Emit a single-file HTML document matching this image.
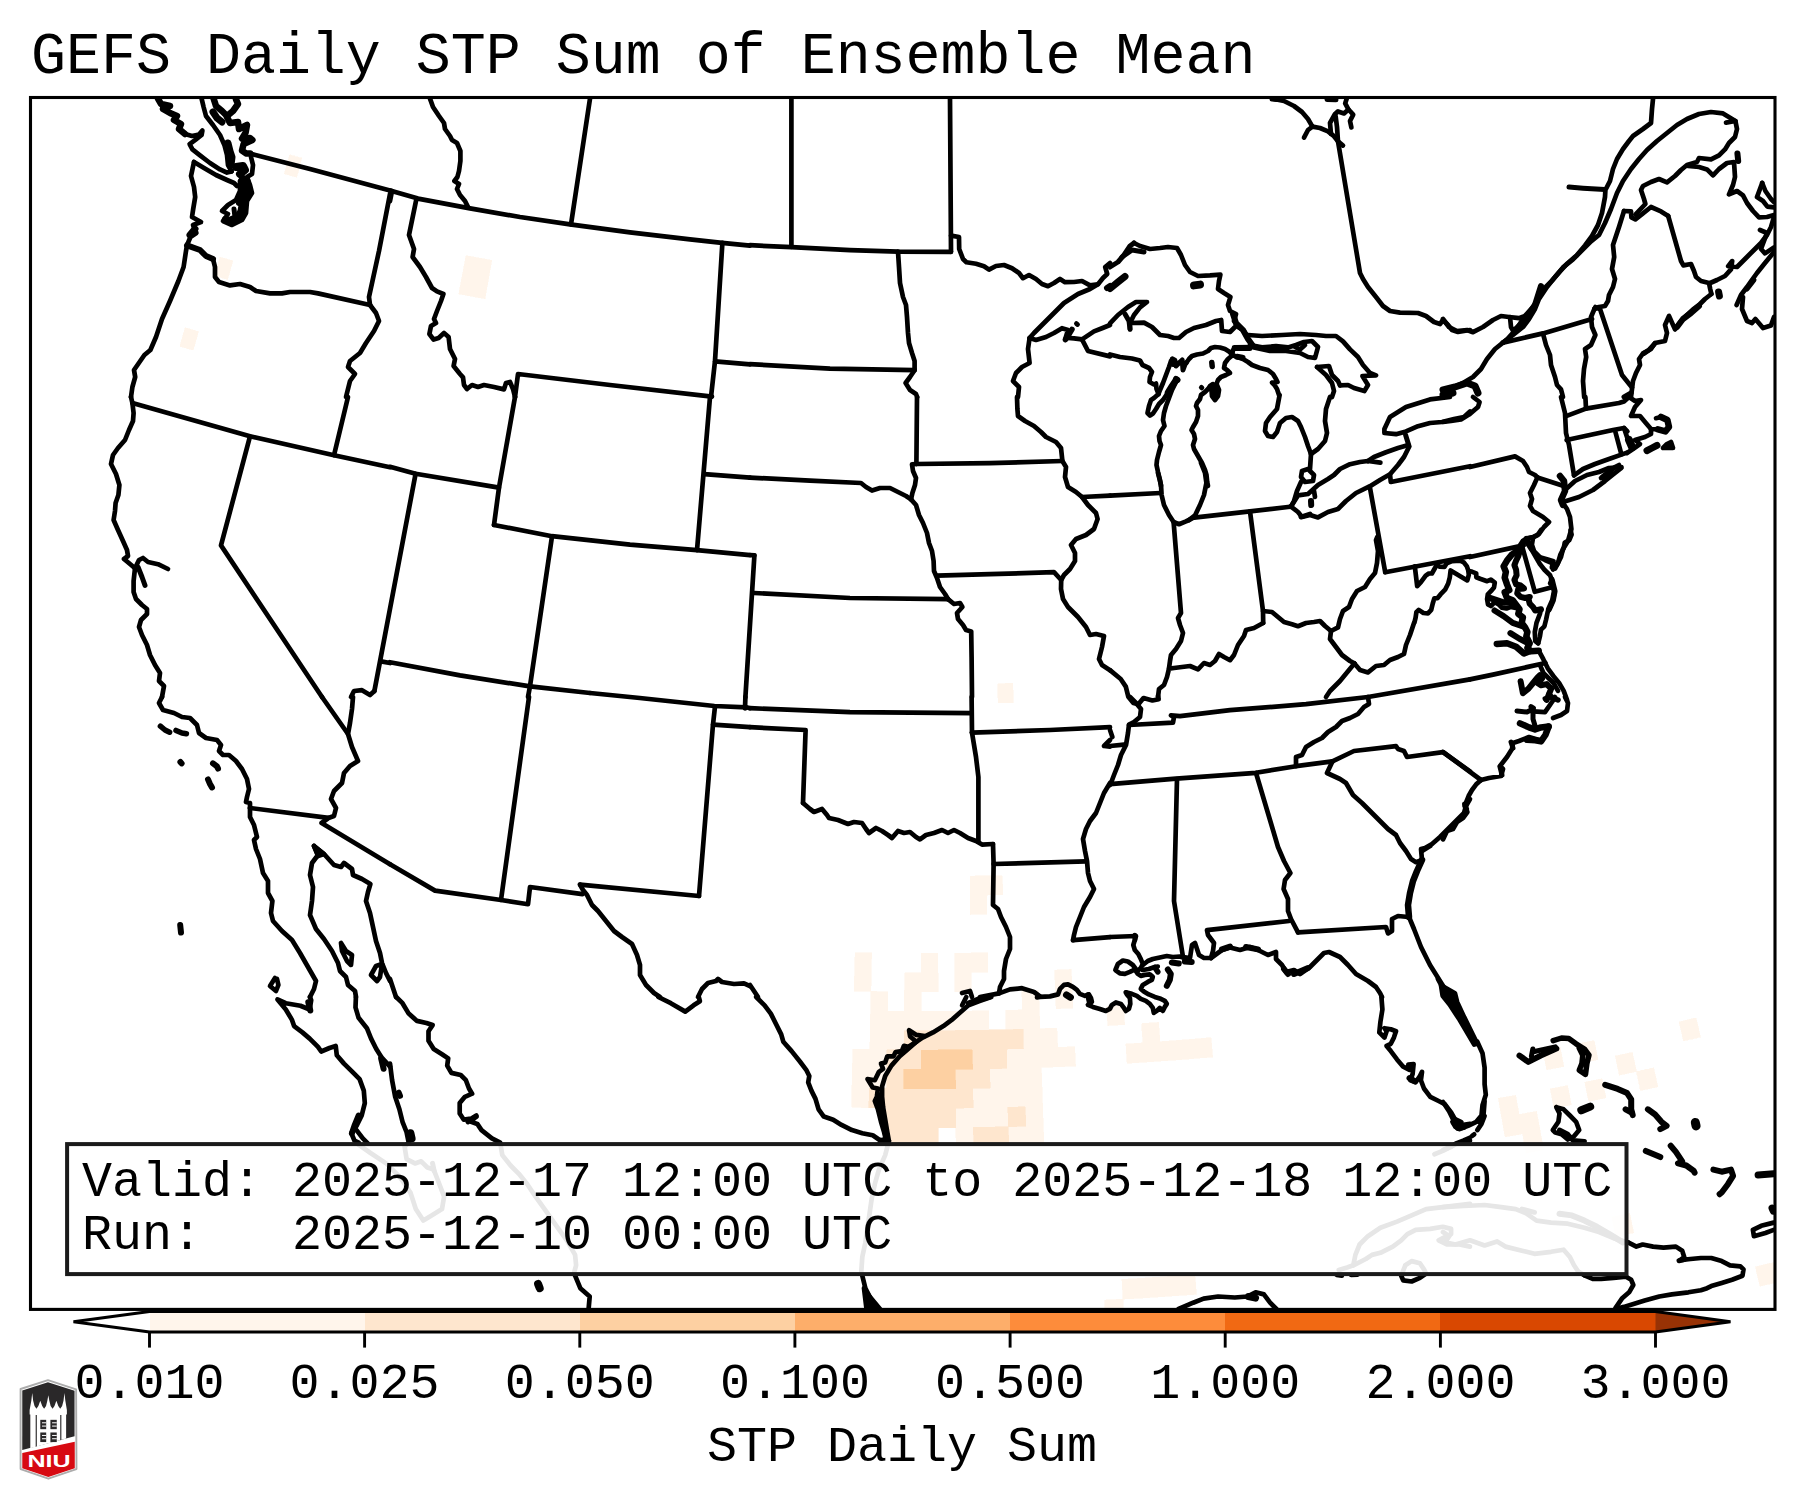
<!DOCTYPE html>
<html lang="en">
<head>
<meta charset="utf-8">
<title>GEFS Daily STP Sum of Ensemble Mean</title>
<style>
html,body{margin:0;padding:0;background:#fff;}
body{width:1803px;height:1500px;overflow:hidden;}
svg{display:block;}
text{font-family:"Liberation Mono","DejaVu Sans Mono",monospace;fill:#000;}
.t{font-size:58.3px;}
.l{font-size:50px;}
.ln{fill:none;stroke:#000;stroke-width:4.7;stroke-linejoin:round;stroke-linecap:round;}
.gh{fill:none;stroke:#e4e4e4;stroke-width:3.1;stroke-linejoin:round;stroke-linecap:round;}
</style>
</head>
<body>
<svg width="1803" height="1500" viewBox="0 0 1803 1500">
<rect x="0" y="0" width="1803" height="1500" fill="#fff"/>
<text class="t" x="31" y="73">GEFS Daily STP Sum of Ensemble Mean</text>
<defs><clipPath id="mapclip"><rect x="30" y="97" width="1745" height="1212"/></clipPath></defs>
<g clip-path="url(#mapclip)">
<g id="cells" shape-rendering="crispEdges">
<path fill="#fff5eb" stroke="#fff5eb" stroke-width="0.6" d="M185.2,327.7L198.5,331.6L193.2,350.2L179.8,346.3ZM220.0,257.1L232.9,260.8L227.6,279.5L214.6,275.8ZM289.5,154.9L301.8,158.2L296.8,177.2L284.3,173.9ZM462.4,274.8L475.4,277.2L471.9,296.4L458.8,293.9ZM466.0,255.6L478.9,258.0L475.4,277.2L462.4,274.8ZM475.4,277.2L488.4,279.6L485.0,298.7L471.9,296.4ZM478.9,258.0L491.8,260.3L488.4,279.6L475.4,277.2ZM851.9,1087.9L869.2,1088.3L868.9,1107.7L851.5,1107.3ZM852.4,1068.5L869.6,1068.8L869.2,1088.3L851.9,1087.9ZM852.8,1049.1L869.9,1049.4L869.6,1068.8L852.4,1068.5ZM854.6,971.8L871.3,972.1L870.9,991.4L854.2,991.1ZM855.1,952.5L871.6,952.8L871.3,972.1L854.6,971.8ZM869.6,1068.8L886.7,1069.1L886.5,1088.5L869.2,1088.3ZM869.9,1049.4L887.0,1049.7L886.7,1069.1L869.6,1068.8ZM870.2,1030.1L887.2,1030.3L887.0,1049.7L869.9,1049.4ZM870.6,1010.7L887.5,1011.0L887.2,1030.3L870.2,1030.1ZM870.9,991.4L887.7,991.7L887.5,1011.0L870.6,1010.7ZM887.2,1030.3L904.2,1030.5L904.0,1049.9L887.0,1049.7ZM887.5,1011.0L904.3,1011.2L904.2,1030.5L887.2,1030.3ZM904.3,1011.2L921.2,1011.2L921.2,1030.6L904.2,1030.5ZM904.5,991.8L921.2,991.9L921.2,1011.2L904.3,1011.2ZM904.6,972.5L921.3,972.6L921.2,991.9L904.5,991.8ZM921.2,1011.2L938.1,1011.2L938.1,1030.6L921.2,1030.6ZM921.3,972.6L938.0,972.6L938.0,991.9L921.2,991.9ZM921.3,953.3L937.9,953.3L938.0,972.6L921.3,972.6ZM938.1,1011.2L954.9,1011.1L955.1,1030.5L938.1,1030.6ZM955.9,1127.6L973.4,1127.4L973.7,1146.9L956.1,1147.1ZM955.7,1108.1L973.1,1107.9L973.4,1127.4L955.9,1127.6ZM954.9,1011.1L971.8,1011.0L972.1,1030.3L955.1,1030.5ZM954.6,972.5L971.3,972.3L971.5,991.6L954.8,991.8ZM954.5,953.2L971.0,953.0L971.3,972.3L954.6,972.5ZM973.1,1107.9L990.5,1107.6L990.9,1127.1L973.4,1127.4ZM972.9,1088.5L990.1,1088.2L990.5,1107.6L973.1,1107.9ZM971.8,1011.0L988.7,1010.7L989.0,1030.0L972.1,1030.3ZM971.0,953.0L987.6,952.8L988.0,972.1L971.3,972.3ZM970.2,895.3L986.5,895.0L986.9,914.3L970.5,914.5ZM970.0,876.1L986.1,875.8L986.5,895.0L970.2,895.3ZM990.5,1107.6L1007.9,1107.3L1008.3,1126.7L990.9,1127.1ZM990.1,1088.2L1007.4,1087.8L1007.9,1107.3L990.5,1107.6ZM989.8,1068.8L1006.9,1068.4L1007.4,1087.8L990.1,1088.2ZM986.1,875.8L1002.3,875.5L1002.8,894.7L986.5,895.0ZM1008.3,1126.7L1025.8,1126.3L1026.4,1145.8L1008.8,1146.2ZM1007.4,1087.8L1024.7,1087.4L1025.3,1106.8L1007.9,1107.3ZM1006.9,1068.4L1024.1,1068.0L1024.7,1087.4L1007.4,1087.8ZM1006.5,1049.0L1023.5,1048.6L1024.1,1068.0L1006.9,1068.4ZM1005.5,1010.3L1022.4,1009.9L1023.0,1029.2L1006.0,1029.7ZM997.7,683.7L1012.8,683.3L1013.4,702.5L998.1,702.9ZM1025.8,1126.3L1043.3,1125.7L1044.0,1145.2L1026.4,1145.8ZM1025.3,1106.8L1042.6,1106.3L1043.3,1125.7L1025.8,1126.3ZM1024.7,1087.4L1042.0,1086.8L1042.6,1106.3L1025.3,1106.8ZM1024.1,1068.0L1041.3,1067.4L1042.0,1086.8L1024.7,1087.4ZM1023.5,1048.6L1040.6,1048.0L1041.3,1067.4L1024.1,1068.0ZM1023.0,1029.2L1039.9,1028.7L1040.6,1048.0L1023.5,1048.6ZM1022.4,1009.9L1039.3,1009.3L1039.9,1028.7L1023.0,1029.2ZM1021.8,990.6L1038.6,990.0L1039.3,1009.3L1022.4,1009.9ZM1040.6,1048.0L1057.7,1047.4L1058.4,1066.8L1041.3,1067.4ZM1039.9,1028.7L1056.9,1028.0L1057.7,1047.4L1040.6,1048.0ZM1057.7,1047.4L1074.7,1046.7L1075.6,1066.0L1058.4,1066.8ZM1055.4,989.4L1072.1,988.7L1073.0,1008.0L1056.1,1008.7ZM1054.6,970.1L1071.2,969.4L1072.1,988.7L1055.4,989.4ZM1104.6,1300.1L1123.0,1299.1L1124.1,1318.9L1105.6,1319.9ZM1121.9,1279.4L1140.2,1278.3L1141.4,1298.1L1123.0,1299.1ZM1106.7,1006.3L1123.5,1005.3L1124.7,1024.6L1107.8,1025.6ZM1140.2,1278.3L1158.4,1277.1L1159.7,1296.9L1141.4,1298.1ZM1125.9,1044.0L1142.9,1042.9L1144.2,1062.2L1127.1,1063.3ZM1158.4,1277.1L1176.7,1275.9L1178.1,1295.6L1159.7,1296.9ZM1142.9,1042.9L1160.0,1041.7L1161.3,1061.0L1144.2,1062.2ZM1141.6,1023.5L1158.6,1022.4L1160.0,1041.7L1142.9,1042.9ZM1176.7,1275.9L1194.9,1274.5L1196.5,1294.3L1178.1,1295.6ZM1160.0,1041.7L1177.0,1040.4L1178.5,1059.8L1161.3,1061.0ZM1177.0,1040.4L1194.0,1039.1L1195.6,1058.4L1178.5,1059.8ZM1194.0,1039.1L1211.0,1037.6L1212.7,1057.0L1195.6,1058.4ZM1501.7,1117.6L1519.1,1114.5L1522.6,1133.8L1505.1,1136.9ZM1498.4,1098.3L1515.7,1095.3L1519.1,1114.5L1501.7,1117.6ZM1522.6,1133.8L1540.1,1130.6L1543.6,1149.9L1526.0,1153.1ZM1519.1,1114.5L1536.5,1111.4L1540.1,1130.6L1522.6,1133.8ZM1550.3,1088.9L1567.6,1085.6L1571.3,1104.8L1553.9,1108.1ZM1543.1,1050.6L1560.1,1047.3L1563.9,1066.5L1546.7,1069.8ZM1611.8,1217.1L1629.7,1213.4L1633.7,1232.8L1615.7,1236.5ZM1584.8,1082.2L1602.1,1078.7L1606.0,1097.8L1588.7,1101.4ZM1577.2,1044.0L1594.2,1040.5L1598.1,1059.6L1581.0,1063.1ZM1615.3,1056.0L1632.3,1052.4L1636.5,1071.5L1619.3,1075.1ZM1636.5,1071.5L1653.6,1067.7L1657.9,1086.8L1640.6,1090.5ZM1679.1,1021.9L1696.0,1017.9L1700.5,1036.9L1683.5,1040.9ZM1755.4,1266.9L1773.6,1262.5L1778.3,1281.9L1760.0,1286.3Z"/>
<path fill="#fee6ce" stroke="#fee6ce" stroke-width="0.6" d="M869.2,1088.3L886.5,1088.5L886.2,1108.0L868.9,1107.7ZM886.0,1127.4L903.5,1127.6L903.3,1147.1L885.7,1146.9ZM886.2,1108.0L903.6,1108.1L903.5,1127.6L886.0,1127.4ZM886.5,1088.5L903.8,1088.7L903.6,1108.1L886.2,1108.0ZM886.7,1069.1L903.9,1069.3L903.8,1088.7L886.5,1088.5ZM887.0,1049.7L904.0,1049.9L903.9,1069.3L886.7,1069.1ZM903.5,1127.6L920.9,1127.7L920.9,1147.2L903.3,1147.1ZM903.6,1108.1L921.0,1108.2L920.9,1127.7L903.5,1127.6ZM903.8,1088.7L921.0,1088.8L921.0,1108.2L903.6,1108.1ZM904.0,1049.9L921.1,1050.0L921.1,1069.4L903.9,1069.3ZM904.2,1030.5L921.2,1030.6L921.1,1050.0L904.0,1049.9ZM920.9,1127.7L938.4,1127.7L938.5,1147.2L920.9,1147.2ZM921.0,1108.2L938.4,1108.2L938.4,1127.7L920.9,1127.7ZM921.0,1088.8L938.3,1088.8L938.4,1108.2L921.0,1108.2ZM921.2,1030.6L938.1,1030.6L938.2,1050.0L921.1,1050.0ZM938.4,1108.2L955.7,1108.1L955.9,1127.6L938.4,1127.7ZM938.3,1088.8L955.6,1088.7L955.7,1108.1L938.4,1108.2ZM938.1,1030.6L955.1,1030.5L955.3,1049.9L938.2,1050.0ZM955.6,1088.7L972.9,1088.5L973.1,1107.9L955.7,1108.1ZM955.4,1069.3L972.6,1069.1L972.9,1088.5L955.6,1088.7ZM955.1,1030.5L972.1,1030.3L972.3,1049.7L955.3,1049.9ZM973.4,1127.4L990.9,1127.1L991.2,1146.6L973.7,1146.9ZM972.6,1069.1L989.8,1068.8L990.1,1088.2L972.9,1088.5ZM972.3,1049.7L989.4,1049.4L989.8,1068.8L972.6,1069.1ZM972.1,1030.3L989.0,1030.0L989.4,1049.4L972.3,1049.7ZM990.9,1127.1L1008.3,1126.7L1008.8,1146.2L991.2,1146.6ZM989.4,1049.4L1006.5,1049.0L1006.9,1068.4L989.8,1068.8ZM989.0,1030.0L1006.0,1029.7L1006.5,1049.0L989.4,1049.4ZM1007.9,1107.3L1025.3,1106.8L1025.8,1126.3L1008.3,1126.7ZM1006.0,1029.7L1023.0,1029.2L1023.5,1048.6L1006.5,1049.0Z"/>
<path fill="#fdd0a2" stroke="#fdd0a2" stroke-width="0.6" d="M903.9,1069.3L921.1,1069.4L921.0,1088.8L903.8,1088.7ZM921.1,1069.4L938.2,1069.3L938.3,1088.8L921.0,1088.8ZM921.1,1050.0L938.2,1050.0L938.2,1069.3L921.1,1069.4ZM938.2,1069.3L955.4,1069.3L955.6,1088.7L938.3,1088.8ZM938.2,1050.0L955.3,1049.9L955.4,1069.3L938.2,1069.3ZM955.3,1049.9L972.3,1049.7L972.6,1069.1L955.4,1069.3Z"/>
</g>
<g id="map" class="ln">
<polyline points="158.0,98.6 161.0,104.0 170.0,106.0 163.0,109.0 170.0,113.0 177.0,116.0 174.0,120.0 181.0,124.0 179.0,129.0 185.0,134.0" stroke-width="6.5"/>
<polyline points="185.0,134.0 192.0,136.0 199.0,134.6 202.4,130.6 201.6,135.0 196.0,139.4 189.6,144.2 192.4,149.4 200.0,155.4 210.0,163.0 220.0,169.4 227.0,172.6 231.6,171.4"/>
<polyline points="201.6,98.6 203.6,107.0 206.0,116.0 213.0,125.0 220.0,135.0 224.4,145.0 227.0,155.0 228.0,165.0 231.6,171.4"/>
<polyline points="213.6,98.6 216.0,106.0 222.0,111.0 227.0,116.0 233.0,111.0 238.0,104.0 236.0,99.4" stroke-width="6.5"/>
<polyline points="213.0,112.0 217.0,118.0 222.0,122.0" stroke-width="7.0"/>
<polyline points="227.0,117.0 230.0,123.0 238.0,122.0 239.0,129.0 247.0,125.0 245.6,132.6 242.0,138.6 250.0,138.0 252.4,140.0 243.6,144.0 242.0,150.6 246.0,153.4 250.0,153.6" stroke-width="6.5"/>
<polyline points="228.0,143.0 230.0,151.0 232.0,157.0 231.0,165.0" stroke-width="7.0"/>
<polyline points="250.0,153.6 310.0,169.0 390.0,190.4"/>
<polyline points="194.0,162.0 204.0,168.0 216.0,175.0 227.0,180.0 234.0,183.0 237.0,186.0"/>
<polyline points="251.0,157.0 253.0,165.0 252.0,174.0 247.0,177.0 250.0,185.0 252.0,193.0 247.0,201.0 246.0,213.0 242.0,220.0 232.0,225.0 223.0,221.0 228.0,214.0 222.0,211.0 228.0,205.0 236.0,200.0 240.0,191.0 240.0,181.0 243.0,177.0"/>
<polyline points="236.0,167.0 243.0,166.0 245.0,170.0 240.0,174.0" stroke-width="8.0"/>
<polyline points="246.0,181.0 247.0,191.0 244.0,201.0 242.0,211.0 239.0,218.0" stroke-width="9.0"/>
<polyline points="242.0,185.0 242.0,197.0 239.0,203.0" stroke-width="6.0"/>
<polyline points="225.0,219.0 232.0,222.0 238.0,220.0" stroke-width="6.0"/>
<polyline points="234.0,209.0 235.0,217.0 230.0,219.0" stroke-width="5.0"/>
<polyline points="194.0,162.0 191.0,176.0 194.0,187.0 195.2,197.0 193.2,209.0 192.0,217.0 201.0,222.0 193.0,225.0 196.4,233.0 190.4,237.0 187.0,245.4"/>
<polyline points="190.0,235.0 195.0,229.0" stroke-width="7.0"/>
<polyline points="187.0,245.4 186.0,251.0 183.6,267.0 178.4,281.0 170.0,301.0 162.0,319.0 156.0,337.0 150.4,350.0 144.4,355.0 134.0,370.0 135.2,377.0 132.4,387.0 131.0,397.0"/>
<polyline points="187.0,245.4 200.0,250.0 206.0,256.0 213.0,259.0" stroke-width="6.0"/>
<polyline points="213.0,259.0 215.0,267.0 215.0,277.0 219.0,282.0 230.0,285.4 240.0,284.0 250.0,287.0 256.0,291.0 270.0,293.4 282.0,293.4 290.0,292.0 310.0,292.0 318.0,293.4 370.0,305.0"/>
<polyline points="390.0,194.0 379.0,251.0 369.0,297.0 370.0,305.0"/>
<polyline points="370.0,305.0 376.0,313.0 379.0,321.0 374.0,331.0 366.0,343.0 360.0,353.0 350.0,361.0 348.0,367.0 355.0,374.0 350.0,381.0 346.0,397.0"/>
<polyline points="390.0,190.4 418.0,198.6 470.0,208.4 520.0,217.0 570.0,224.4 630.0,232.4 690.0,239.4 722.0,242.8 750.0,245.6"/>
<polyline points="392.0,191.0 390.0,201.0"/>
<polyline points="416.4,199.0 409.0,235.0 414.0,249.0 412.6,257.0 420.0,267.0 426.0,277.0 432.0,288.0 437.0,291.4 443.4,294.0 441.0,301.0 437.0,311.0 434.0,319.0 436.0,323.0 431.0,326.0 429.4,334.0 433.6,339.6 438.6,338.0 444.0,333.0 448.6,337.0 450.0,349.0 455.0,359.0 453.6,366.0 460.0,374.0 463.0,377.4 464.0,385.0 467.0,389.0 472.0,385.0 478.0,387.0 484.0,385.0 494.0,387.0 504.0,389.4 506.0,383.0 510.0,382.0 513.0,389.0 515.0,397.0"/>
<polyline points="430.0,98.6 433.0,107.0 439.0,116.0 444.0,123.0 445.0,129.0 450.0,136.0 452.0,140.0 457.0,143.0 460.4,151.0 460.4,161.0 459.0,171.0 457.4,177.0 454.4,181.0 459.0,184.0 457.0,189.0 460.0,195.0 465.0,201.0 468.0,207.0"/>
<polyline points="590.0,98.6 571.0,224.4"/>
<polyline points="722.4,242.8 715.0,361.0 711.0,397.0"/>
<polyline points="715.0,361.4 750.0,364.4"/>
<polyline points="515.0,397.0 518.0,374.0 610.0,385.0 712.0,396.6"/>
<polyline points="791.4,98.6 791.4,247.0"/>
<polyline points="750.0,245.2 791.4,247.2 850.0,250.2 898.0,251.6 951.0,251.8"/>
<polyline points="950.0,98.6 951.0,251.8"/>
<polyline points="951.0,235.6 959.0,237.0 959.2,249.0 963.0,259.0 966.4,262.2 976.0,263.8 984.0,266.2 989.0,269.6 996.0,266.0 1004.0,265.0 1012.0,268.2 1019.0,273.0 1023.0,278.2 1029.0,275.0 1036.0,279.0 1042.0,284.0 1048.0,286.2 1054.0,283.0 1060.0,279.0 1065.0,282.2 1074.0,282.0 1082.0,281.0 1090.0,285.4 1098.0,284.2 1103.0,278.0 1107.2,274.0 1105.2,267.0 1110.0,263.0"/>
<polyline points="898.0,251.6 899.0,267.0 900.0,283.0 903.0,297.0 906.0,305.0 907.0,317.0 908.0,333.0 909.0,343.0 912.0,353.0 914.6,361.0 914.6,370.2 910.0,377.0 905.6,383.0 910.0,390.0 916.0,394.0 917.2,397.0"/>
<polyline points="750.0,364.2 830.0,368.6 914.6,370.2"/>
<polyline points="1098.0,284.2 1090.0,289.0 1078.0,294.0 1064.0,303.0 1054.0,313.0 1044.0,323.0 1034.0,333.0 1029.6,338.0"/>
<polyline points="1029.6,338.0 1036.0,340.0 1046.0,337.0 1054.0,333.0 1062.0,328.2 1068.0,330.0 1065.0,340.0"/>
<polyline points="1065.6,339.4 1069.6,333.4 1072.0,329.4" stroke-width="5.5"/>
<polyline points="1076.4,323.6 1077.6,324.6"/>
<polyline points="1068.0,338.0 1074.0,338.4 1082.0,339.4 1094.0,331.4 1102.0,328.2 1110.0,325.0"/>
<polyline points="1029.6,338.0 1028.0,349.0 1029.6,363.0 1022.0,367.0 1016.0,373.0 1013.0,381.0 1019.0,387.0 1018.0,397.0"/>
<polyline points="1082.0,339.4 1088.0,351.0 1110.0,356.4"/>
<polyline points="1107.0,288.0 1110.0,286.0" stroke-width="6.0"/>
<polyline points="1274.0,99.0 1284.0,101.0 1294.0,106.0 1302.0,112.0 1308.0,119.0 1312.4,126.6"/>
<polyline points="1312.4,126.6 1308.0,130.0 1304.0,137.6" stroke-width="4.7"/>
<polyline points="1312.4,126.6 1320.0,128.0 1328.0,131.4 1334.0,136.2 1338.0,141.4 1343.0,145.6"/>
<polyline points="1331.0,134.0 1330.0,123.0 1335.0,114.0 1338.0,111.4 1344.0,113.4 1348.4,109.4 1345.2,103.4 1346.6,99.0"/>
<polyline points="1335.6,116.0 1337.0,127.0 1338.0,141.4"/>
<polyline points="1349.0,110.0 1353.2,114.6 1350.0,121.0 1351.4,127.4"/>
<polyline points="1327.0,99.4 1336.0,99.8" stroke-width="5.0"/>
<polyline points="1272.0,99.0 1277.0,99.4" stroke-width="5.0"/>
<polyline points="1338.0,141.4 1360.0,273.0 1363.0,279.0 1368.0,287.0 1376.0,297.0 1383.0,306.0 1390.0,311.0 1400.0,312.6 1418.0,313.0 1426.0,316.0 1434.0,322.0 1440.0,324.0 1443.0,320.0 1448.0,325.0 1452.0,330.0 1458.0,332.0 1470.0,330.0"/>
<polyline points="1110.0,267.0 1118.0,262.0 1124.0,255.0 1130.0,246.0 1134.0,243.0" stroke-width="5.0"/>
<polyline points="1122.0,257.0 1132.0,250.0 1144.0,252.0" stroke-width="5.0"/>
<polyline points="1134.0,243.0 1140.0,246.0 1150.0,249.0 1160.0,248.0 1168.0,247.0 1177.0,248.0 1181.0,255.0 1185.0,265.0 1190.0,272.0 1198.0,276.0 1210.0,275.4 1220.4,274.6 1219.0,281.0 1218.0,289.0 1224.0,293.0 1230.4,297.0 1228.0,305.0 1230.0,311.0 1236.0,314.0 1234.0,321.0 1238.0,327.0 1243.0,330.0 1247.0,336.0"/>
<polyline points="1110.0,288.6 1118.0,282.0 1125.0,276.4" stroke-width="7.0"/>
<polyline points="1194.0,285.4 1200.0,284.6" stroke-width="8.0"/>
<polyline points="1110.0,323.4 1118.0,315.0 1128.0,307.0 1136.0,302.0 1147.0,302.0 1140.0,307.4 1134.0,315.0 1130.0,323.0 1130.0,329.4"/>
<polyline points="1125.0,314.0 1129.0,321.0 1130.0,329.0" stroke-width="5.0"/>
<polyline points="1131.0,323.0 1144.0,322.6 1152.0,327.0 1160.0,335.0 1168.0,336.0 1174.0,338.0 1179.0,338.0 1186.0,332.0 1194.0,328.0 1206.0,325.0 1216.0,321.0 1221.2,320.0 1222.0,331.0 1230.0,332.0 1235.0,327.0"/>
<polyline points="1233.0,314.0 1236.0,323.0 1243.0,330.0 1248.0,339.0 1253.0,346.0" stroke-width="6.0"/>
<polyline points="1248.0,335.0 1262.0,336.0 1282.0,335.0 1300.0,334.0 1316.0,335.0 1326.0,336.0 1336.0,336.0 1343.0,341.4 1350.0,349.4 1358.0,357.0 1363.0,365.0 1370.0,373.0 1376.0,375.4 1362.4,376.0 1368.0,385.0 1364.4,391.0 1354.0,388.0 1348.0,385.0 1340.0,385.4"/>
<polyline points="1250.0,345.0 1262.0,347.4 1276.0,346.2 1288.0,347.4 1296.0,345.0 1304.0,342.0 1312.0,341.0 1318.0,347.0 1315.0,358.0 1308.0,357.0 1300.0,353.0 1286.0,351.0 1270.0,351.0 1254.0,347.4" stroke-width="4.7"/>
<polyline points="1295.0,347.0 1300.0,349.4 1305.0,345.0" stroke-width="4.7"/>
<polyline points="1317.0,367.0 1329.0,366.0 1332.0,375.0 1338.0,381.0 1340.0,385.4"/>
<polyline points="1317.0,367.0 1326.0,375.0 1332.0,383.0 1334.0,391.0 1332.0,397.0"/>
<polyline points="1234.0,347.4 1253.0,347.0"/>
<polyline points="1653.0,99.0 1652.0,109.0 1651.0,123.0 1643.0,129.0 1633.0,136.0 1629.0,141.0 1623.0,149.0 1617.0,159.0 1613.0,169.0 1610.0,181.0 1605.4,190.0 1605.0,197.0 1602.0,213.0 1598.0,225.0 1592.0,236.0 1585.0,245.4 1576.6,255.4 1567.4,263.4 1560.0,271.4 1552.0,280.6 1544.0,288.6 1538.6,298.0 1532.6,307.4 1525.4,315.4 1520.2,323.4 1513.4,332.2 1507.4,339.0 1503.0,342.6"/>
<polyline points="1569.0,187.0 1583.0,188.2 1604.6,189.6" stroke-width="5.0"/>
<polyline points="1735.4,121.0 1723.0,113.4 1711.0,112.0 1699.0,114.0 1687.0,119.0 1677.0,125.0 1667.0,133.0 1657.0,141.0 1647.0,150.0 1639.0,159.0 1631.0,169.0 1623.0,181.0 1617.0,193.0 1611.0,209.0 1605.0,223.0 1599.0,235.0 1591.0,241.4 1583.0,249.4 1573.0,259.4 1563.0,267.4 1555.0,277.0 1547.0,287.0 1539.0,299.0 1535.0,309.0 1529.0,319.0 1523.0,327.0 1513.0,335.0 1503.0,342.6"/>
<polyline points="1541.0,286.0 1535.0,305.0 1527.0,317.0 1517.0,329.0" stroke-width="6.0"/>
<polyline points="1503.0,342.6 1495.0,349.0 1487.0,359.0 1481.0,369.0 1473.0,377.0 1463.0,383.0 1453.0,387.4 1443.0,391.4"/>
<polyline points="1443.0,390.0 1455.0,387.0 1467.0,383.0 1475.0,386.0 1478.0,393.0" stroke-width="7.0"/>
<polyline points="1443.0,395.0 1453.0,393.0" stroke-width="7.0"/>
<polyline points="1726.0,122.6 1735.4,121.0 1737.0,129.0 1735.0,137.0 1729.0,143.0 1725.0,149.4 1719.0,155.4 1711.0,159.4 1699.0,158.0 1697.0,162.0 1687.0,165.0 1681.0,170.0 1675.0,176.0 1667.0,182.4 1659.0,179.0 1651.0,182.0 1643.0,186.0 1641.0,190.0 1644.0,199.0 1645.4,204.0 1635.4,214.6"/>
<polyline points="1688.0,166.0 1699.0,167.0 1707.0,169.4 1713.0,175.4 1719.0,169.0 1727.0,163.0 1734.0,162.0 1735.0,177.0 1733.0,185.0 1729.0,194.4 1737.0,191.0 1743.0,195.4 1747.0,203.0 1753.0,211.0 1759.0,217.4 1767.0,217.0 1774.0,215.0"/>
<polyline points="1737.4,153.4 1738.2,161.0" stroke-width="6.0"/>
<polyline points="1762.2,183.0 1757.0,197.0 1763.0,201.0 1767.4,206.6 1774.0,207.4"/>
<polyline points="1762.2,183.0 1765.4,191.0 1771.0,199.0 1774.0,202.0"/>
<polyline points="1624.0,211.0 1631.0,211.4 1631.4,217.4 1635.4,219.4 1643.0,213.4 1651.0,207.0 1661.0,211.4 1668.2,216.0"/>
<polyline points="1668.2,216.0 1681.0,261.0 1683.4,265.4 1691.0,264.0 1694.0,271.0 1696.0,277.0 1701.0,281.0 1709.0,283.0 1710.2,289.0 1711.4,294.0"/>
<polyline points="1624.0,211.0 1619.0,227.0 1613.0,245.0 1614.2,257.0 1612.0,269.0 1615.0,279.0 1613.0,287.0 1609.0,295.0 1608.0,301.0 1605.0,306.0 1599.0,307.0 1594.4,309.0"/>
<polyline points="1710.2,283.0 1717.0,280.0 1725.0,276.0 1731.0,269.4 1732.2,261.0 1728.2,266.2 1737.0,267.0 1747.0,257.0 1755.0,249.0 1761.0,243.0 1767.0,235.0 1771.0,227.0 1774.0,217.0"/>
<polyline points="1760.0,230.0 1767.0,233.0 1761.0,249.0 1765.0,253.4 1774.0,247.4"/>
<polyline points="1774.0,252.0 1765.0,263.0 1757.0,273.0 1751.0,281.4 1747.0,287.0 1741.0,295.0 1736.6,305.0"/>
<polyline points="1754.0,280.0 1747.0,289.0" stroke-width="5.0"/>
<polyline points="1743.0,297.0 1742.0,309.0 1747.0,321.0 1752.0,323.0 1755.4,319.0 1763.0,328.0 1771.0,325.4 1774.0,317.0"/>
<polyline points="1718.6,292.0 1719.4,296.0" stroke-width="7.0"/>
<polyline points="1711.4,294.0 1705.0,299.0 1699.0,305.0 1693.0,309.4 1687.0,315.0 1681.0,321.0 1675.0,329.4 1669.0,316.0 1665.0,325.0 1667.0,333.0 1665.0,341.0 1655.0,343.0 1651.0,349.0 1643.0,353.4 1639.0,359.0 1640.0,365.0 1636.0,373.0 1633.0,381.0 1632.0,389.0 1631.0,397.0"/>
<polyline points="1699.0,306.0 1691.0,313.0 1683.0,319.0 1677.0,327.0" stroke-width="6.0"/>
<polyline points="1655.0,343.4 1649.0,350.0 1644.0,353.4" stroke-width="5.0"/>
<polyline points="1594.4,309.0 1595.4,307.0 1600.2,309.4 1622.0,375.0 1632.0,387.4"/>
<polyline points="1624.0,397.0 1631.0,393.0" stroke-width="5.0"/>
<polyline points="1594.4,309.0 1591.0,317.0 1592.0,327.0 1595.4,335.0 1591.0,345.0 1585.0,349.0 1586.2,357.0 1584.0,369.0 1583.0,381.0 1584.2,397.0"/>
<polyline points="1503.0,342.6 1543.0,333.4 1592.0,319.0"/>
<polyline points="1543.0,333.6 1546.0,345.0 1550.0,355.0 1551.0,365.0 1555.0,377.0 1557.0,385.0 1561.0,389.4 1563.0,397.0"/>
<polyline points="1443.0,319.0 1449.0,327.0 1457.0,331.0 1467.0,330.0 1473.0,332.2 1483.0,327.0 1493.0,320.0 1501.0,316.0 1509.0,317.0 1519.0,318.2 1523.0,316.6"/>
<polyline points="1510.0,317.0 1511.0,327.0 1513.0,330.6 1520.0,325.0"/>
<polyline points="132.4,403.0 250.0,436.2 334.0,455.2 390.0,467.2"/>
<polyline points="131.0,397.0 132.4,403.0 133.6,413.0 133.0,421.0 129.0,430.0 125.0,440.0 118.0,448.0 113.0,455.0 111.0,464.0 116.0,474.0 119.4,485.0 118.4,495.0 115.6,503.0 115.0,511.0 113.6,520.0 118.0,530.0 123.0,541.0 127.0,550.0 128.0,556.0 124.0,559.0 130.0,564.0 135.0,568.2"/>
<polyline points="135.0,568.2 139.0,560.0 143.0,558.0 148.0,562.0 158.0,564.2 168.0,569.0" stroke-width="4.7"/>
<polyline points="138.0,567.0 142.0,577.0 145.0,585.4" stroke-width="5.0"/>
<polyline points="135.0,568.2 133.6,581.0 133.6,592.0 136.0,599.0 142.0,605.0 147.0,609.0 147.0,614.0 141.0,620.0 139.0,627.0 142.0,635.0 147.0,645.0 150.0,655.0 155.0,665.0 160.0,673.0 159.0,681.0 164.0,686.0 162.0,697.0"/>
<polyline points="250.0,436.4 221.0,545.4 322.0,697.0"/>
<polyline points="348.0,397.0 334.0,455.2"/>
<polyline points="374.4,691.0 370.0,695.0 362.0,690.2 354.0,691.0 351.0,697.0"/>
<polyline points="381.0,661.4 390.0,663.0"/>
<polyline points="390.0,466.8 415.6,473.8 499.0,487.6"/>
<polyline points="415.6,473.8 374.4,691.0"/>
<polyline points="515.0,397.0 499.0,487.6 494.0,525.0"/>
<polyline points="494.0,525.0 552.0,536.2 630.0,544.6 697.0,550.2 750.0,555.2"/>
<polyline points="552.0,536.4 530.0,686.2 528.0,697.0"/>
<polyline points="390.0,662.2 460.0,675.4 530.0,686.4 590.0,693.0"/>
<polyline points="710.0,397.0 697.0,550.2"/>
<polyline points="704.4,474.2 750.0,477.6"/>
<polyline points="917.0,397.0 916.4,464.0"/>
<polyline points="750.0,477.6 810.0,480.6 861.0,483.0 866.0,487.0 872.0,490.6 880.0,488.0 890.0,488.0 898.0,492.0 906.0,496.0 911.0,499.4"/>
<polyline points="916.4,464.0 912.0,464.4 913.0,471.0 916.0,478.0 915.0,485.0 912.4,493.0 911.0,499.4"/>
<polyline points="916.4,464.0 990.0,463.2 1062.4,461.0"/>
<polyline points="911.0,499.4 916.0,505.0 919.0,515.0 923.0,523.0 927.0,533.0 929.0,543.0 932.0,551.0 933.6,561.0 934.0,571.0 937.0,578.0 940.0,587.0 945.0,594.0 948.0,599.0"/>
<polyline points="754.0,593.0 850.0,598.0 948.0,599.2"/>
<polyline points="750.0,555.0 754.4,555.4"/>
<polyline points="948.0,599.2 954.0,604.0 960.0,603.0 962.4,607.0 957.0,613.0 958.0,619.0 963.0,625.0 966.0,630.0 971.2,631.4 971.6,657.0 972.0,697.0"/>
<polyline points="937.0,575.6 990.0,574.2 1054.0,572.2 1061.2,580.0"/>
<polyline points="1017.0,397.0 1017.4,409.0 1018.0,416.0 1025.0,421.0 1034.0,426.0 1041.0,432.0 1046.0,437.0 1056.0,442.0 1061.0,448.0 1062.4,461.0 1066.0,467.0 1065.0,477.0 1068.0,487.0 1076.0,492.0 1082.0,497.0 1088.0,505.0 1096.0,513.0 1097.6,519.0 1094.0,529.0 1086.0,535.0 1076.0,539.0 1071.0,545.0 1075.0,553.0 1075.0,561.0 1070.0,569.0 1064.0,575.0 1061.2,580.0 1061.0,589.0 1063.0,599.0 1068.0,607.0 1078.0,617.0 1086.0,627.0 1090.0,635.0 1096.0,634.0 1104.0,636.0 1102.0,647.0 1099.0,659.0 1102.0,665.0 1110.0,670.2"/>
<polyline points="1082.0,497.0 1110.0,495.6"/>
<polyline points="1110.0,495.6 1160.4,493.0"/>
<polyline points="1158.0,473.0 1161.0,485.0 1161.6,495.0 1164.0,505.0 1169.0,515.0 1173.6,522.0 1179.0,524.2 1186.0,521.4 1194.0,517.4"/>
<polyline points="1201.0,463.0 1205.0,473.0 1206.4,483.0 1204.0,495.0 1200.0,505.0 1195.0,515.4 1189.0,520.2"/>
<polyline points="1173.6,522.0 1181.0,613.0 1178.0,618.0 1180.0,625.0 1183.0,633.0 1181.0,641.0 1176.0,649.0 1171.0,655.0 1170.0,661.0 1169.0,668.4"/>
<polyline points="1194.0,517.6 1250.0,511.4 1288.0,507.0 1291.0,506.6"/>
<polyline points="1250.0,511.4 1263.0,611.0 1263.2,623.0"/>
<polyline points="1263.2,623.0 1254.0,628.0 1246.0,630.0 1244.0,636.0 1238.0,645.0 1234.0,655.0 1230.0,660.2 1224.0,657.0 1219.0,654.0 1215.0,661.0 1210.0,665.0 1204.0,663.0 1198.0,669.4 1190.0,666.0 1182.0,667.0 1174.0,668.0 1169.0,668.6 1167.0,677.0 1164.0,685.0 1159.0,689.0 1158.0,697.0"/>
<polyline points="1263.0,611.0 1272.0,612.0 1278.0,617.0 1284.0,622.0 1292.0,624.2 1298.0,626.2 1306.0,623.0 1314.0,622.0 1320.0,621.0 1325.0,626.0 1331.0,631.0"/>
<polyline points="1331.0,631.0 1338.0,627.4 1340.0,619.0 1343.0,611.0 1349.0,607.0 1352.0,599.0 1357.0,591.0 1365.0,587.0 1370.0,579.0 1375.0,573.0 1377.0,563.0 1378.0,551.0 1376.0,540.0 1377.2,537.0"/>
<polyline points="1370.0,488.0 1385.2,572.2"/>
<polyline points="1331.0,631.0 1330.0,639.0 1336.0,647.0 1342.0,655.0 1350.0,661.0 1354.4,663.4"/>
<polyline points="1354.4,663.4 1340.0,681.0 1330.0,691.0 1326.0,697.0"/>
<polyline points="1354.4,663.4 1360.0,670.0 1368.0,672.4 1376.0,666.0 1384.0,665.0 1390.0,660.0 1398.0,657.0 1404.0,654.0 1406.0,645.0 1410.0,635.0 1414.0,623.0"/>
<polyline points="1385.2,572.2 1470.0,556.2"/>
<polyline points="1390.0,474.6 1390.8,482.0 1470.0,466.2"/>
<polyline points="1368.0,697.0 1470.0,679.4"/>
<polyline points="1311.0,454.0 1310.0,469.0"/>
<polyline points="1302.0,471.0 1308.0,469.0 1314.0,475.0 1313.0,481.0 1305.0,482.0 1301.0,477.0 1302.0,471.0"/>
<polyline points="1301.0,482.0 1297.0,491.0 1294.0,501.0 1291.0,506.6"/>
<polyline points="1291.0,506.6 1298.0,495.4 1308.0,494.0 1318.0,485.0 1328.0,479.0 1334.0,475.0 1340.0,469.0 1350.0,464.2 1360.0,462.0 1368.0,461.0 1380.4,462.6"/>
<polyline points="1368.0,461.0 1374.0,457.0 1386.0,452.2 1398.0,448.0 1408.4,445.0"/>
<polyline points="1291.0,506.6 1298.0,512.0 1302.0,517.0 1310.0,515.0 1318.0,517.4 1328.0,512.0 1338.0,509.0 1346.0,501.0 1356.0,493.0 1370.0,486.2 1380.0,480.0 1390.0,474.2 1398.0,465.0 1404.0,457.0 1409.0,447.0"/>
<polyline points="1301.0,517.0 1310.0,514.0" stroke-width="5.0"/>
<polyline points="1311.0,501.0 1311.2,505.0" stroke-width="6.0"/>
<polyline points="1314.0,491.0 1315.0,497.0"/>
<polyline points="1279.6,395.0 1277.0,409.0 1270.0,417.0 1266.0,423.0 1265.0,431.0 1268.0,436.0 1273.0,437.0 1277.0,432.0 1280.0,423.0 1286.0,418.0 1292.0,417.0 1298.0,421.0 1301.0,427.0 1305.0,437.0 1308.0,446.0 1311.0,454.0"/>
<polyline points="1330.0,397.0 1326.0,409.0 1325.0,421.0 1327.0,433.0 1325.0,441.0 1318.0,449.0 1311.0,454.0"/>
<polyline points="1450.0,397.0 1430.0,399.4 1406.0,407.0 1390.0,417.0 1384.4,429.0 1384.4,433.0 1396.0,434.2 1406.0,431.4 1418.0,426.2 1430.0,423.0 1442.0,422.0 1454.0,419.0 1464.0,417.0 1470.0,411.4"/>
<polyline points="1405.6,435.0 1409.0,446.0" stroke-width="5.0"/>
<polyline points="1443.0,422.0 1451.0,421.0 1461.0,419.4 1469.0,414.6 1478.0,407.0 1479.6,402.0 1473.0,397.0"/>
<polyline points="1470.0,467.0 1515.0,456.4 1523.0,461.0 1527.0,467.0 1529.0,472.0 1535.0,475.0 1537.4,477.4"/>
<polyline points="1537.4,477.4 1563.0,485.8"/>
<polyline points="1537.4,477.4 1534.0,485.0 1530.0,493.0 1532.0,499.0 1530.0,506.0 1533.0,511.0 1543.0,517.0 1549.0,522.0 1544.0,527.0 1539.0,534.0 1533.0,537.0 1527.0,538.2 1523.0,541.4 1523.4,545.4"/>
<polyline points="1470.0,557.0 1523.4,545.4"/>
<polyline points="1560.0,476.0 1564.0,481.0 1565.0,491.0 1561.0,500.0 1563.0,505.0" stroke-width="6.5"/>
<polyline points="1563.0,503.0 1567.0,509.0 1570.0,517.0 1571.4,529.0 1568.0,541.0 1563.0,549.0 1561.0,557.0 1557.0,565.0 1553.0,569.4 1552.0,563.0 1545.0,560.0 1539.0,557.0 1535.0,553.0 1531.0,549.0 1527.0,543.0 1526.0,538.2"/>
<polyline points="1470.0,679.4 1493.0,674.6 1545.4,663.0"/>
<polyline points="1561.0,397.0 1565.0,413.0 1566.0,433.0 1569.0,445.0 1574.0,475.4"/>
<polyline points="1585.4,397.0 1586.0,408.6"/>
<polyline points="1565.4,416.4 1586.0,408.6 1619.0,403.0 1624.0,401.4 1629.0,397.0"/>
<polyline points="1566.6,440.0 1613.0,430.0 1624.0,428.0 1627.4,431.4"/>
<polyline points="1615.4,432.0 1621.4,454.4"/>
<polyline points="1624.0,428.0 1628.0,440.0 1630.0,444.0"/>
<polyline points="1629.0,397.0 1635.0,401.0 1641.0,400.0 1635.0,407.0 1631.0,416.0 1640.0,416.0 1645.0,422.0 1651.0,429.0 1658.0,429.4 1665.0,431.4 1669.0,427.0 1667.4,420.0 1661.0,417.0 1656.0,418.2"/>
<polyline points="1658.0,429.4 1665.4,431.4 1669.0,427.0 1667.4,420.0 1661.0,417.0" stroke-width="6.5"/>
<polyline points="1651.0,429.0 1651.0,434.0 1645.0,437.0 1635.0,440.0 1640.0,444.0 1633.0,449.0 1627.0,453.0"/>
<polyline points="1629.0,440.0 1632.0,447.0" stroke-width="8.0"/>
<polyline points="1647.0,450.6 1652.0,448.0 1657.0,445.4" stroke-width="7.0"/>
<polygon points="1663.0,448.0 1673.0,448.0 1671.0,442.0 1667.0,444.0" fill="#000"/>
<polyline points="1574.0,475.4 1583.0,469.0 1595.0,464.0 1609.0,459.0 1621.4,454.6 1627.0,452.6"/>
<polyline points="1565.0,490.0 1575.0,481.0 1587.0,475.0 1599.0,472.0 1609.0,468.0 1621.4,467.0"/>
<polyline points="1563.0,502.0 1579.0,497.0 1593.0,490.0 1605.0,481.0 1615.0,473.0 1621.4,468.0"/>
<polyline points="1601.0,478.0 1609.0,473.0 1615.0,467.0 1619.0,465.0"/>
<polyline points="1603.0,477.0 1610.0,471.4" stroke-width="6.0"/>
<polyline points="162.0,697.0 159.0,703.0 163.0,710.0 174.0,713.0 182.0,717.0 190.0,718.0 197.0,725.0 199.0,733.0 206.0,738.0 217.0,740.0 221.0,745.0 219.0,751.0 223.0,755.0 229.0,755.0 236.0,761.0 242.0,769.0 247.0,779.0 249.0,789.0 247.0,797.0 246.0,802.0 250.0,803.0 250.0,808.0"/>
<polyline points="160.4,726.2 165.0,730.0 169.6,732.2" stroke-width="5.5"/>
<polyline points="176.0,730.4 182.0,733.0 186.4,733.8" stroke-width="5.5"/>
<polyline points="180.4,762.0 181.6,763.4" stroke-width="6.0"/>
<polyline points="213.0,763.4 217.0,766.4 218.0,768.6" stroke-width="6.0"/>
<polyline points="208.0,779.4 210.0,784.0 212.0,787.4" stroke-width="6.0"/>
<polyline points="180.2,925.0 181.0,932.6" stroke-width="6.0"/>
<polyline points="275.0,978.0 270.0,986.0 276.0,991.0 278.4,985.0 277.0,979.0" stroke-width="4.7"/>
<polyline points="250.0,808.0 328.4,817.8"/>
<polyline points="353.0,697.0 352.0,709.0 350.0,723.0 348.0,734.0 352.0,747.0 358.0,761.0 350.0,766.0 344.0,773.0 342.0,783.0 334.0,791.0 331.0,799.0 336.0,808.0 334.0,816.0 328.4,818.0 321.6,823.0 390.0,864.2"/>
<polyline points="322.0,697.0 348.0,734.0"/>
<polyline points="250.0,808.0 250.0,817.0 254.0,825.0 257.0,837.0 254.0,840.0 256.0,849.0 260.0,859.0 263.0,873.0 268.0,881.0 268.0,893.0 272.4,901.0 271.0,913.0 273.0,921.0 282.0,931.0 292.0,940.0 300.0,953.0 308.0,967.0 316.0,981.0 314.0,989.0 310.0,997.0"/>
<polyline points="314.0,846.0 318.0,855.0 312.0,863.0 310.0,875.0 313.0,887.0 312.0,901.0 310.0,915.0 316.0,929.0 324.0,939.0 332.0,951.0 338.0,963.0 340.0,971.0 346.0,977.0 348.0,985.0 355.0,991.0 356.0,997.0"/>
<polygon points="314.0,846.0 324.0,854.0 318.0,856.0" fill="#000"/>
<polyline points="314.0,846.0 324.0,854.0 334.0,865.0 341.0,867.0 344.0,863.0 352.0,869.0 353.0,875.0 362.0,879.0 370.4,884.0 368.0,892.0 366.0,901.0 370.0,913.0 373.0,927.0 376.0,941.0 380.0,953.0 382.0,963.0 386.0,973.0 390.0,981.0"/>
<polyline points="341.0,943.0 346.0,951.0 352.0,955.0 351.0,965.0 347.0,961.0 342.0,951.0 341.0,943.0"/>
<polyline points="371.0,975.0 376.0,966.0 382.0,964.0 380.0,977.0 377.0,981.0 371.0,975.0"/>
<polyline points="529.0,697.0 501.0,900.0"/>
<polyline points="745.4,697.0 745.0,708.4"/>
<polyline points="715.0,706.6 713.0,724.4 699.0,896.0"/>
<polyline points="713.0,724.6 750.0,727.2"/>
<polyline points="390.0,864.2 435.0,890.6 501.0,900.0 528.0,904.2 530.0,887.0 582.4,894.2"/>
<polyline points="580.0,884.6 699.0,896.0"/>
<polyline points="580.0,884.6 583.0,890.0 587.0,895.0 592.0,905.0 598.0,911.0 606.0,921.0 614.0,931.0 622.0,937.0 632.0,944.0 637.0,955.0 640.0,965.0 640.0,975.0 646.0,985.0 654.0,993.0 660.0,997.0"/>
<polyline points="698.0,997.0 702.0,989.0 708.0,983.0 716.0,981.0 718.0,979.0 722.0,982.0 734.0,984.0 744.0,983.4 750.0,986.2"/>
<polyline points="390.0,979.0 396.0,997.0"/>
<polyline points="750.0,708.2 850.0,712.2 971.6,713.2"/>
<polyline points="971.6,697.0 972.0,732.6"/>
<polyline points="972.0,732.6 1050.0,730.0 1110.0,727.2"/>
<polyline points="1110.0,740.0 1104.0,746.0 1110.0,746.6" stroke-width="4.7"/>
<polyline points="750.0,727.2 805.6,730.0 803.0,803.0"/>
<polyline points="803.0,803.0 810.0,809.0 814.0,812.0 822.0,809.0 827.0,815.0 829.0,818.0 838.0,820.0 848.0,824.0 854.0,822.0 862.0,823.0 866.0,829.0 869.0,833.0 876.0,828.0 882.0,831.0 888.0,835.0 892.0,838.0 898.0,831.0 904.0,833.0 910.0,832.0 916.0,837.0 920.0,839.4 926.0,835.0 934.0,833.0 942.0,830.0 948.0,833.0 954.0,830.0 960.0,833.0 968.0,838.0 976.0,841.0 982.0,844.6 993.0,844.0"/>
<polyline points="972.0,732.6 976.0,757.0 978.4,777.0 978.4,842.0"/>
<polyline points="993.0,844.0 993.6,864.0 993.0,905.0 998.0,909.0 1001.0,917.0 1006.0,927.0 1010.0,937.0 1010.0,949.0 1006.0,959.0 1004.0,971.0 1004.0,979.0 1000.0,987.0 999.0,993.4"/>
<polyline points="993.6,864.0 1086.0,861.4"/>
<polyline points="1110.0,783.0 1104.0,793.0 1100.0,803.0 1096.0,813.0 1090.0,821.0 1086.0,829.0 1083.0,839.0 1085.0,851.0 1087.0,861.0 1088.0,873.0 1090.0,881.0 1094.0,889.0 1090.0,897.0 1084.0,907.0 1080.0,917.0 1076.0,927.0 1074.0,935.0 1073.0,940.2"/>
<polyline points="1073.0,940.2 1110.0,937.2"/>
<polyline points="962.0,993.0 970.0,991.0 972.0,997.0" stroke-width="4.7"/>
<polyline points="980.0,997.0 999.0,993.4 1010.0,989.4 1022.0,988.2 1034.0,992.0 1040.0,996.4"/>
<polyline points="750.0,985.0 758.0,997.0"/>
<polyline points="1130.0,697.0 1136.0,703.0 1141.0,709.0 1140.0,717.0 1134.0,722.0 1129.0,724.6 1128.0,733.0 1126.0,745.0 1121.0,755.0 1118.0,765.0 1114.0,775.0 1111.0,783.0 1110.0,785.0"/>
<polyline points="1110.0,730.0 1112.4,737.0" stroke-width="4.7"/>
<polyline points="1129.0,725.0 1173.0,722.6 1174.0,717.0 1171.0,715.4 1180.0,716.2 1230.0,710.2 1306.0,704.2 1368.0,697.0"/>
<polyline points="1110.0,746.0 1124.0,744.6"/>
<polyline points="1110.0,784.2 1176.0,778.6 1256.0,772.8 1296.0,766.2 1332.4,761.4"/>
<polyline points="1177.0,779.0 1174.0,901.0 1183.0,957.0"/>
<polyline points="1256.0,773.0 1278.0,847.0 1284.0,861.0 1290.4,873.0 1285.0,880.0 1283.6,889.0 1288.0,899.0 1288.0,911.0 1291.0,919.0 1298.0,932.4"/>
<polyline points="1289.0,921.0 1207.0,930.2 1208.0,935.0 1214.0,943.0 1213.0,951.0 1211.0,958.0"/>
<polyline points="1298.0,932.4 1386.0,927.0 1388.0,933.4 1392.0,931.0 1392.0,919.0 1398.0,916.0 1408.4,917.0"/>
<polyline points="1296.0,766.2 1296.0,757.0 1302.0,755.0 1306.0,747.0 1314.0,742.0 1322.0,738.0 1328.0,732.0 1336.0,727.0 1342.0,721.0 1350.0,718.0 1358.0,714.0 1364.0,707.0 1369.0,704.0 1368.0,697.0"/>
<polyline points="1332.4,761.4 1354.0,751.0 1396.0,746.2 1398.0,749.0 1404.0,751.0 1407.0,757.0 1443.0,752.2 1470.0,771.4"/>
<polyline points="1332.4,761.4 1327.0,773.0 1340.0,779.0 1346.0,783.0 1353.0,795.0 1362.0,803.0 1372.0,813.0 1380.0,821.0 1388.0,829.0 1396.0,835.0 1400.0,843.0 1406.0,851.0 1411.0,859.0 1416.0,862.2 1422.0,860.0"/>
<polyline points="1470.0,799.0 1466.0,806.0 1464.0,813.0 1456.0,821.0 1448.0,829.0 1440.0,837.0 1432.0,844.0 1425.0,848.0 1421.0,849.0 1422.0,860.0"/>
<polyline points="1422.0,851.0 1430.0,846.0" stroke-width="5.0"/>
<polyline points="1422.0,860.0 1417.0,871.0 1413.0,881.0 1410.0,893.0 1408.0,905.0 1409.0,917.0" stroke-width="6.5"/>
<polyline points="1409.0,917.0 1414.0,929.0 1421.0,947.0 1430.0,965.0 1440.0,981.0 1450.0,997.0"/>
<polyline points="1211.0,958.0 1222.0,950.0 1230.0,947.4 1240.0,950.0 1250.0,947.0 1258.0,950.0 1268.0,955.0 1276.0,952.0 1276.0,959.0 1282.0,965.0 1286.0,972.0 1294.0,970.0 1300.0,974.0 1310.0,967.0 1318.0,959.0 1324.0,953.0 1329.0,952.0 1340.0,957.0 1348.0,965.0 1356.0,974.0 1368.0,981.0 1376.0,987.0 1380.0,993.0 1382.0,997.0"/>
<polyline points="1222.0,949.4 1230.0,946.6" stroke-width="6.0"/>
<polyline points="1246.0,947.0 1258.0,949.4" stroke-width="6.0"/>
<polyline points="1284.0,969.0 1288.0,974.0" stroke-width="6.0"/>
<polyline points="1294.0,974.0 1308.0,968.0" stroke-width="6.0"/>
<polyline points="1183.0,957.0 1190.0,958.0 1192.0,945.0 1195.0,943.0 1199.0,955.0 1204.0,958.0 1211.0,958.0"/>
<polyline points="1110.0,937.0 1136.0,936.0 1135.0,940.0"/>
<polyline points="1443.0,752.0 1481.0,780.0"/>
<polyline points="1481.0,780.0 1489.0,778.0 1501.0,776.0 1503.0,769.0 1500.0,766.0 1507.0,757.0 1512.0,749.0 1513.0,743.0 1519.0,741.0 1529.0,737.0 1539.0,740.0"/>
<polyline points="1511.0,742.0 1513.0,748.0" stroke-width="5.0"/>
<polyline points="1500.0,767.0 1502.0,775.0" stroke-width="5.0"/>
<polyline points="1548.6,726.6 1541.0,727.4 1535.0,729.4 1529.0,727.4 1520.0,723.4" stroke-width="6.5"/>
<polyline points="1548.6,726.6 1545.4,735.0 1541.0,741.4 1535.4,740.2 1527.0,739.8" stroke-width="6.5"/>
<polyline points="1517.0,711.0 1527.0,712.0 1533.0,709.0 1533.0,719.0 1535.4,727.0" stroke-width="5.0"/>
<polyline points="1533.0,711.4 1545.0,712.2 1552.0,702.0 1555.0,697.0" stroke-width="4.7"/>
<polyline points="1531.0,706.6 1533.4,708.2" stroke-width="5.0"/>
<polyline points="1553.0,718.0 1561.0,715.0 1567.0,711.0 1568.0,703.0 1565.0,697.0" stroke-width="4.7"/>
<polyline points="1545.0,698.6 1551.0,697.0" stroke-width="5.0"/>
<polyline points="1481.0,780.0 1476.0,784.6 1472.0,790.0 1468.6,796.0 1466.2,802.0 1464.6,806.0 1467.4,812.0 1463.0,818.0 1457.0,822.0 1453.0,829.0 1447.0,831.0 1443.0,839.4"/>
<polyline points="1464.6,804.0 1466.6,809.0" stroke-width="5.0"/>
<polyline points="309.9,997.0 311.2,1000.1 309.7,1009.5"/>
<polyline points="308.3,1002.2 310.3,1010.5" stroke-width="6.0"/>
<polyline points="309.7,1009.5 300.4,1005.7 285.8,1003.2 277.5,999.5 285.8,1009.5 292.0,1019.9 294.1,1026.1 302.4,1032.4 309.7,1038.6 318.0,1046.9 321.2,1051.5 329.5,1048.0 335.7,1045.9 336.8,1055.2 344.0,1063.6 352.4,1071.9 359.6,1079.1 363.8,1090.6 364.8,1103.1 361.7,1115.5 356.5,1125.9 351.3,1133.2 354.4,1140.5 358.6,1142.6"/>
<polyline points="358.6,1115.5 354.4,1125.9 351.9,1133.2" stroke-width="6.0"/>
<polyline points="356.5,1130.1 362.8,1138.4 368.0,1143.6"/>
<polyline points="355.9,997.0 355.5,1007.4 358.6,1017.8 366.9,1028.2 371.1,1038.6 376.3,1049.0 381.5,1057.3 390.0,1066.7"/>
<polyline points="381.1,1058.4 383.6,1068.8" stroke-width="6.0"/>
<polyline points="396.2,997.0 402.5,1003.2 408.7,1013.6 417.0,1020.9 426.4,1023.0 432.6,1025.1 428.5,1031.3 428.5,1040.7 433.7,1049.0 442.0,1054.2 448.2,1058.4 447.2,1065.6 451.4,1072.9 460.7,1075.0 465.9,1080.2 469.0,1088.5 472.1,1093.7 464.9,1096.8 459.7,1103.1 459.7,1113.5 463.8,1119.7 471.1,1118.7 476.3,1115.5 471.1,1121.8 477.3,1123.9 481.5,1130.1 491.9,1138.4 500.2,1142.6 502.3,1155.1 510.6,1165.5 518.9,1173.8 527.3,1184.2 535.6,1196.7 546.0,1211.2 556.4,1225.8 566.8,1240.3 575.1,1254.9 576.1,1265.3 574.1,1272.6 575.1,1275.7 580.3,1288.2 589.7,1296.5 588.6,1309.0"/>
<polyline points="468.0,1121.8 476.3,1116.6" stroke-width="5.0"/>
<polyline points="390.0,1063.6 392.1,1080.2 395.2,1096.8 399.4,1109.3 402.5,1121.8 406.6,1132.2 408.7,1142.6 404.6,1146.7 406.6,1159.2 415.0,1163.4 421.2,1161.3 427.4,1167.5 433.7,1169.6 437.8,1180.0 444.1,1196.7 442.0,1209.1 431.6,1215.4 423.3,1220.6 415.8,1208.9 410.6,1192.9 399.8,1176.9 386.5,1163.6 370.5,1153.0 357.1,1143.6"/>
<polyline points="398.7,1092.7 400.0,1095.8" stroke-width="6.0"/>
<polyline points="410.4,1133.2 411.6,1138.4" stroke-width="8.0"/>
<polyline points="432.6,1163.4 434.1,1170.7" stroke-width="5.0"/>
<polyline points="658.3,997.0 670.8,1003.2 685.3,1011.6 693.6,1005.3 699.9,1001.2 698.8,997.0"/>
<polyline points="538.1,1284.0 539.7,1288.2" stroke-width="8.0"/>
<polyline points="756.2,997.0 764.6,1005.3 770.8,1013.6 776.0,1024.0 781.2,1034.4 783.3,1041.7 791.6,1051.1 799.9,1061.5 806.2,1069.8 809.3,1076.0 808.2,1082.3 811.4,1090.6 815.5,1098.9 818.6,1109.3 823.8,1116.6 833.2,1119.7 841.5,1124.9 851.9,1130.1 862.3,1133.2 872.7,1135.3 878.9,1139.5 885.2,1140.9"/>
<polyline points="991.2,997.0 978.8,1001.2 968.4,1005.3 960.1,1012.6 951.7,1019.9 943.4,1026.1 933.0,1032.4 922.6,1037.6 916.4,1041.7 908.1,1049.0 899.7,1056.3 891.4,1065.6 885.2,1076.0 882.1,1086.4 882.1,1096.8 883.1,1107.2 885.2,1119.7 887.3,1132.2 888.9,1140.9"/>
<polyline points="924.7,1036.1 916.4,1034.9 909.1,1030.3 910.1,1036.5 916.4,1041.7 908.1,1046.9 903.9,1045.9 901.8,1051.1 895.6,1052.1 893.5,1056.3 887.3,1056.3 885.2,1062.5 881.0,1063.6 883.1,1068.8 878.9,1071.9 874.8,1080.2 867.5,1079.1 872.7,1087.5 877.9,1088.5 876.9,1096.8 874.8,1101.0 877.9,1109.3 881.0,1121.8 884.1,1132.2 886.2,1140.9" stroke-width="4.7"/>
<polyline points="877.9,1094.7 880.0,1109.3 884.1,1125.9 887.3,1140.5" stroke-width="6.0"/>
<polyline points="962.1,1005.3 966.3,997.0"/>
<polyline points="968.4,1003.2 978.8,999.1 989.2,997.0" stroke-width="5.5"/>
<polyline points="888.9,1140.9 885.2,1155.1 878.9,1169.6 874.8,1184.2 871.7,1198.7 869.6,1213.3 867.5,1227.8 865.4,1242.4 862.3,1257.0 861.3,1271.5 862.3,1275.7 865.4,1288.2 870.6,1298.6 877.3,1309.0"/>
<polygon points="864.0,1288.2 869.6,1296.5 880.0,1309.0 866.5,1309.0" fill="#000"/>
<polyline points="880.0,1142.6 885.2,1138.4"/>
<polyline points="1381.4,997.0 1382.4,1009.5 1380.4,1022.0 1379.3,1032.4 1384.5,1037.6 1386.6,1031.3 1384.5,1028.2 1390.8,1029.2 1396.0,1031.3 1393.9,1037.6 1390.8,1043.8 1386.6,1045.9 1390.8,1051.1 1397.0,1059.4 1403.2,1066.7 1409.5,1069.8 1408.4,1064.6 1413.6,1064.0 1412.6,1073.9 1410.5,1080.2 1415.7,1082.3 1419.9,1076.0 1422.0,1071.9 1420.9,1080.2 1424.0,1088.5 1430.3,1096.8 1438.6,1101.0 1444.8,1104.1 1451.1,1112.4 1455.2,1119.7 1459.4,1123.9 1463.6,1124.9 1470.0,1123.9"/>
<polyline points="1409.5,1078.1 1414.7,1081.2" stroke-width="6.0"/>
<polyline points="1453.6,1122.8 1457.7,1128.4 1463.6,1127.6" stroke-width="5.0"/>
<polyline points="1470.0,1140.5 1463.6,1142.0 1455.2,1144.2 1451.1,1146.7 1442.8,1150.9 1434.4,1154.2" stroke-width="4.7"/>
<polyline points="1338.8,1269.9 1347.1,1267.4 1353.3,1265.3 1355.4,1254.9 1359.6,1244.5 1367.9,1236.2 1380.4,1227.8 1397.0,1221.6 1411.6,1215.4 1426.1,1209.1 1442.8,1207.1 1459.4,1205.0 1470.0,1203.9"/>
<polyline points="1353.3,1265.3 1365.8,1259.0 1372.0,1254.9 1380.4,1252.8 1392.8,1246.6 1401.2,1240.3 1407.4,1234.1 1415.7,1229.9 1430.3,1228.9 1442.8,1226.8 1451.1,1228.9 1451.1,1234.1 1442.8,1238.2 1438.6,1240.3 1446.9,1244.5 1459.4,1244.5 1470.0,1246.6"/>
<polyline points="1405.3,1265.3 1411.6,1261.1 1419.9,1263.2 1424.0,1269.4 1426.1,1273.6 1419.9,1277.8 1411.6,1281.5 1403.2,1280.3 1401.2,1275.7 1405.3,1265.3"/>
<polyline points="1336.7,1274.9 1341.9,1275.7" stroke-width="4.7"/>
<polyline points="1351.2,1274.9 1357.5,1274.6" stroke-width="4.7"/>
<polyline points="1178.6,1309.0 1193.2,1302.7 1203.6,1298.6 1218.1,1296.5 1234.8,1297.5 1247.3,1296.5 1255.6,1292.3 1263.9,1294.4 1270.1,1302.7 1276.4,1309.0"/>
<polyline points="1248.3,1296.5 1255.6,1298.1" stroke-width="7.0"/>
<polyline points="1477.3,1041.7 1482.5,1053.2 1484.6,1067.7 1484.6,1084.3 1485.8,1094.7 1482.5,1105.1 1481.5,1115.5 1476.3,1121.8 1468.0,1125.9 1459.6,1129.1 1455.5,1127.0 1452.4,1121.8 1455.5,1119.3 1461.3,1122.2"/>
<polyline points="1484.6,1101.0 1483.6,1113.5 1478.4,1121.8" stroke-width="4.7"/>
<polyline points="1443.0,1102.0 1449.2,1111.4 1453.4,1120.1"/>
<polyline points="1484.6,1116.0 1481.5,1123.9 1477.3,1130.1" stroke-width="4.7"/>
<polyline points="1474.2,1134.3 1472.1,1135.9" stroke-width="4.7"/>
<polyline points="1469.6,1137.8 1463.8,1140.5 1455.5,1143.6 1451.3,1146.7 1443.0,1149.9" stroke-width="4.7"/>
<polyline points="1519.5,1055.6 1528.3,1061.9 1540.7,1055.6 1556.3,1048.6" stroke-width="6.0"/>
<polyline points="1532.8,1049.0 1531.4,1056.3" stroke-width="5.0"/>
<polyline points="1534.5,1051.5 1555.3,1046.9" stroke-width="5.0"/>
<polyline points="1553.2,1040.7 1561.5,1038.0 1568.8,1038.6 1576.1,1043.8 1584.4,1049.0 1589.0,1055.2 1586.9,1063.6 1585.5,1074.4 1579.2,1070.2 1581.9,1063.6 1582.8,1055.2 1579.2,1048.0" stroke-width="5.5"/>
<polyline points="1556.3,1107.2 1563.6,1109.3 1569.9,1115.5 1576.1,1121.8 1579.2,1130.1 1574.0,1136.3 1567.8,1139.5 1561.5,1134.3 1555.3,1132.6 1552.8,1130.1 1558.4,1121.8 1559.5,1113.5 1556.3,1107.2" stroke-width="4.7"/>
<polyline points="1559.5,1130.1 1567.8,1134.3 1573.0,1140.5 1584.4,1141.5" stroke-width="5.0"/>
<polyline points="1581.3,1110.3 1590.2,1106.6" stroke-width="8.0"/>
<polyline points="1605.2,1084.8 1617.7,1088.9 1627.1,1093.1 1631.2,1099.3 1631.2,1109.3 1632.7,1115.1" stroke-width="6.0"/>
<polyline points="1625.6,1109.3 1631.2,1112.4" stroke-width="6.0"/>
<polyline points="1647.9,1109.3 1655.1,1114.5 1661.4,1121.8 1666.6,1125.9 1660.3,1129.1" stroke-width="6.0"/>
<polyline points="1695.3,1122.4 1696.1,1125.9" stroke-width="9.0"/>
<polyline points="1645.8,1150.9 1653.1,1154.0 1660.3,1157.1" stroke-width="6.0"/>
<polyline points="1670.7,1145.7 1675.9,1151.9 1682.2,1161.3 1678.0,1163.4 1686.3,1165.5 1693.6,1170.7 1694.6,1172.7" stroke-width="6.0"/>
<polyline points="1713.4,1169.6 1721.7,1171.7 1731.0,1169.6 1733.1,1175.9 1727.9,1184.2 1721.7,1192.5 1719.6,1194.2" stroke-width="6.0"/>
<polyline points="1758.1,1175.0 1773.7,1173.8" stroke-width="7.0"/>
<polyline points="1772.0,1208.1 1773.3,1211.2" stroke-width="7.0"/>
<polyline points="1773.7,1222.6 1761.2,1225.8 1752.9,1229.9 1753.9,1236.2 1765.4,1233.0 1773.7,1229.9"/>
<polyline points="1628.1,1242.4 1636.4,1246.6 1642.7,1244.5 1653.1,1246.6 1663.5,1247.6 1675.9,1246.6 1682.2,1250.7 1684.2,1257.0 1680.1,1260.1 1690.5,1259.0 1700.9,1258.0 1711.3,1258.0 1721.7,1261.1 1730.0,1265.3 1740.4,1266.3 1743.5,1269.4 1742.5,1275.7 1732.1,1279.8 1721.7,1283.0 1711.3,1286.1 1707.1,1288.2 1700.9,1290.2 1688.4,1292.3 1671.8,1294.4 1659.3,1296.5 1644.7,1300.6 1634.3,1303.8 1623.9,1306.9 1615.6,1309.0"/>
<polyline points="1679.0,1260.7 1684.2,1259.5" stroke-width="5.0"/>
<polyline points="1584.4,1275.3 1592.7,1278.8 1601.1,1278.8 1613.5,1277.8 1626.0,1276.7 1631.2,1279.8 1633.3,1285.0 1629.1,1292.3 1621.9,1298.6 1615.6,1307.9"/>
<polyline points="1443.0,1207.1 1463.8,1206.0 1484.6,1205.0 1501.2,1207.1 1515.8,1209.1 1526.2,1213.3 1536.6,1220.6 1551.1,1222.6 1567.8,1223.7 1584.4,1227.8 1599.0,1232.0 1613.5,1238.2 1628.1,1242.4"/>
<polyline points="1559.5,1213.7 1571.9,1215.4 1584.4,1220.6 1596.9,1226.8 1609.4,1234.1 1622.9,1242.4" stroke-width="6.0"/>
<polyline points="1522.0,1209.1 1534.5,1212.3" stroke-width="5.0"/>
<polyline points="1443.0,1232.0 1449.2,1236.2 1445.1,1242.4 1455.5,1244.5 1470.0,1240.3 1484.6,1245.5 1497.1,1241.4 1505.4,1246.6 1522.0,1250.7 1534.5,1253.8 1551.1,1251.8 1563.6,1249.7 1569.9,1257.0 1574.0,1265.3 1578.2,1271.5 1584.4,1275.3"/>
<polyline points="1110.0,354.5 1120.0,357.0 1132.0,358.5 1140.0,360.5 1142.5,365.0 1149.0,368.0 1152.0,372.0 1150.0,377.0 1149.5,382.0 1154.0,384.5 1156.0,383.5 1156.5,389.0 1158.5,394.0"/>
<polyline points="1158.5,394.0 1154.0,398.0 1151.0,400.0 1149.0,406.0 1147.5,413.0 1150.0,415.5 1153.0,413.5 1156.0,409.0 1159.0,404.0 1163.0,400.0 1167.0,394.0 1170.0,389.0 1173.0,384.0 1176.5,379.5"/>
<polyline points="1168.0,392.5 1172.0,386.0 1176.0,380.0" stroke-width="6.5"/>
<polyline points="1176.0,379.0 1177.5,380.0" stroke-width="6.0"/>
<polyline points="1177.5,379.0 1175.0,384.0 1172.0,390.0 1169.0,398.0 1166.0,406.0 1164.0,413.0 1163.0,420.0 1164.5,426.0 1161.0,431.0 1159.0,436.0 1159.5,441.0 1161.0,445.0 1159.0,452.0 1157.0,460.0 1156.5,465.0 1158.0,472.0 1160.0,480.0 1161.0,486.0"/>
<polyline points="1158.5,394.0 1160.0,390.0 1163.0,383.0 1166.0,375.0 1169.0,367.0 1171.0,361.0 1172.5,359.0"/>
<polyline points="1172.5,359.0 1173.0,364.5 1174.8,360.0 1176.0,366.0 1180.0,362.0 1182.2,360.0 1183.0,370.0 1185.2,364.0 1186.2,363.0" stroke-width="5.0"/>
<polyline points="1186.2,363.0 1189.0,359.0 1192.0,356.0 1197.0,354.5 1203.0,353.5 1208.0,351.0 1211.0,348.0 1215.0,347.0 1220.0,347.5 1225.0,349.0 1229.0,351.5 1232.2,354.5"/>
<polyline points="1232.2,354.5 1233.0,350.0 1235.0,348.3 1250.0,348.6"/>
<polyline points="1232.5,355.2 1228.0,359.0 1225.0,363.0 1224.0,368.0 1227.0,370.0 1230.0,373.0 1226.0,375.0 1221.0,377.0 1218.0,380.0 1216.5,384.0 1219.0,390.0 1218.0,396.0 1215.0,400.0 1212.0,396.0 1211.5,390.0 1213.0,384.0 1210.0,386.0 1208.0,389.0 1205.0,392.0 1201.0,395.0 1200.0,399.0 1197.0,403.0 1196.0,406.0 1198.0,410.0 1198.0,416.0 1196.0,422.0 1193.0,427.0 1191.5,430.0 1194.0,434.0 1195.0,439.0 1193.0,445.0 1194.0,449.0 1198.0,456.0 1202.0,463.0 1205.0,470.0 1206.5,475.0 1207.2,482.0 1208.0,486.0"/>
<polyline points="1214.8,387.0 1215.5,396.0" stroke-width="6.0"/>
<polyline points="1211.8,362.5 1212.2,366.5" stroke-width="5.5"/>
<polyline points="1201.4,387.4 1201.8,387.8" stroke-width="5.0"/>
<polyline points="1232.5,355.2 1238.0,357.0 1243.0,359.0 1248.0,362.0 1252.0,365.0 1260.0,368.0 1268.0,370.0 1273.0,374.0 1276.0,379.0 1277.5,382.0 1272.0,382.5 1274.5,385.0 1277.0,389.0 1279.0,395.0"/>
<polyline points="1237.0,356.8 1242.5,357.6" stroke-width="6.0"/>
<polyline points="1414.8,566.4 1417.2,586.2 1421.1,581.9 1425.7,575.7 1428.8,573.5 1431.9,573.5 1435.0,568.0 1436.6,565.0 1439.7,566.6 1444.4,566.9 1446.7,563.3 1452.1,561.1 1459.9,560.7 1463.8,562.3 1466.9,566.4 1468.4,570.8 1472.3,571.8 1476.2,573.4 1476.3,577.3 1480.1,578.8 1487.1,581.2 1490.9,579.6 1494.8,582.7 1494.0,587.4 1490.9,591.2 1487.8,594.4 1487.1,599.0 1488.0,604.4 1490.9,606.0 1494.8,602.1 1498.7,604.4 1501.8,607.6 1506.5,608.5 1511.1,606.9 1518.1,608.5"/>
<polyline points="1468.4,570.8 1468.8,574.9 1467.3,580.4 1450.6,570.4 1449.8,577.3 1448.2,583.5 1445.1,589.7 1440.5,594.4 1437.4,598.2 1434.3,598.4 1432.7,603.7 1431.2,609.9 1428.0,613.4 1423.4,613.0 1418.7,609.9 1416.4,612.2 1415.6,617.6 1414.5,622.3"/>
<polyline points="1521.7,544.7 1534.8,591.8 1550.1,587.8"/>
<polyline points="1520.6,544.2 1522.9,540.8 1527.4,538.5 1533.1,537.4 1537.6,535.1 1541.0,530.0"/>
<polyline points="1527.4,540.2 1530.8,548.1 1535.3,556.1 1539.9,564.0 1544.4,569.7 1550.1,575.3 1551.8,579.9 1550.1,583.3 1553.5,586.7 1554.6,591.2 1553.5,598.0 1551.2,604.8 1547.8,611.6 1546.1,619.5 1544.4,626.3 1541.0,629.7 1539.9,636.5 1538.2,643.3"/>
<polyline points="1551.8,579.9 1554.6,591.2 1552.9,600.3 1548.9,609.3" stroke-width="6.0"/>
<polyline points="1533.1,537.4 1531.9,544.7 1534.2,551.5 1539.9,557.2 1547.8,559.5 1553.5,561.2 1551.8,567.4 1555.2,568.5 1558.0,562.9 1560.3,554.9 1563.7,548.1 1564.8,542.5 1569.3,540.2 1571.6,534.5 1570.5,530.0"/>
<polyline points="1538.2,643.3 1535.3,641.1 1534.8,632.0 1536.5,622.9 1539.9,613.9 1541.0,609.3"/>
<polyline points="1541.0,609.3 1535.3,610.5 1533.1,607.1 1529.7,603.7 1528.5,599.1 1529.7,596.9 1525.1,598.0 1520.6,596.9 1517.2,593.5 1518.3,588.9 1524.0,588.4 1520.6,585.5 1516.1,584.4 1514.4,579.9 1516.6,575.3 1516.1,569.7 1514.4,565.1 1516.1,560.6 1518.3,556.1 1520.0,550.4 1520.8,545.9" stroke-width="6.0"/>
<polyline points="1517.2,551.0 1511.5,554.9 1507.0,560.6 1503.6,566.3 1505.9,571.9 1504.7,577.6 1507.0,584.4 1509.3,590.1 1504.7,592.3 1507.0,598.0 1512.7,600.3 1516.1,604.8 1519.5,609.3 1518.3,613.9 1522.9,617.3 1521.7,622.9 1525.1,627.5 1527.4,632.0 1526.3,636.5 1529.7,643.3 1527.4,647.9 1530.8,651.3 1538.7,650.7" stroke-width="6.5"/>
<polyline points="1490.0,598.0 1496.8,600.3 1503.6,602.5 1512.7,602.5" stroke-width="6.5"/>
<polyline points="1494.5,610.5 1503.6,616.1 1512.7,622.9 1522.9,626.3" stroke-width="6.0"/>
<polyline points="1510.4,633.1 1519.5,638.8 1526.3,642.2" stroke-width="6.0"/>
<polyline points="1496.8,643.9 1507.0,643.3 1516.1,646.7 1524.0,653.5 1529.7,651.3" stroke-width="6.5"/>
<polyline points="1538.7,650.7 1543.3,659.2 1547.8,668.3 1553.5,676.2 1559.1,683.0 1563.7,690.9 1567.1,700.0"/>
<polyline points="1539.9,664.9 1543.3,672.8 1548.9,678.5 1553.5,683.0 1558.0,690.9"/>
<polyline points="1520.6,681.3 1522.9,693.2 1528.5,688.7 1533.1,683.0 1537.6,677.3 1539.9,675.1 1542.1,678.5 1537.6,683.0 1541.0,685.3 1546.7,684.1 1551.2,688.7 1548.9,694.3 1546.7,700.0" stroke-width="6.0"/>
<polyline points="1548.9,694.3 1552.3,697.7 1558.0,700.0" stroke-width="5.5"/>
<polyline points="1037.0,997.4 1040.0,996.9 1050.0,996.4 1058.0,994.4 1060.0,988.9 1064.0,984.9 1068.0,984.4 1072.9,986.9 1076.9,989.9 1079.9,993.9 1084.9,995.9 1088.9,994.4 1090.9,997.9 1091.9,1001.9 1087.9,1004.9 1092.9,1006.9 1099.9,1008.9 1105.9,1010.9 1109.9,1008.9 1111.9,1004.9 1115.9,1002.4 1120.9,1003.9 1123.9,1007.9 1125.9,1010.9 1128.9,1008.9 1130.3,1003.9 1129.9,997.9 1126.9,994.4 1125.9,992.4"/>
<polyline points="1066.5,994.9 1070.4,997.4" stroke-width="7.0"/>
<polyline points="1087.9,994.9 1089.9,1003.9" stroke-width="5.5"/>
<polyline points="1125.9,992.4 1131.8,993.9 1136.8,995.9 1140.8,998.9 1145.8,1000.9 1149.8,1003.9 1152.8,1007.9 1153.8,1012.9 1156.8,1010.9 1159.8,1007.9 1162.8,1010.9 1164.8,1006.9 1166.8,1003.9 1164.8,1000.9 1159.8,998.4 1154.8,996.9 1148.8,994.4 1143.8,991.4 1140.8,988.9 1142.8,984.9 1147.8,981.9 1151.8,979.9 1152.8,976.9 1149.8,974.4 1144.8,974.9 1140.8,975.9 1137.8,973.9 1135.8,970.9"/>
<polyline points="1115.4,970.0 1117.9,964.0 1122.9,960.5 1127.9,961.5 1132.8,965.0 1135.8,969.0 1129.9,971.9 1124.9,973.9 1119.9,973.4 1115.4,970.0"/>
<polyline points="1134.8,935.0 1134.8,940.0 1133.3,945.0 1134.8,950.0 1138.3,954.0 1140.8,959.0 1142.8,964.0 1140.8,968.0 1137.8,970.9"/>
<polyline points="1142.8,965.0 1147.8,961.0 1152.8,959.0 1159.8,957.5 1166.8,956.0 1172.8,957.0 1179.8,956.5 1183.8,957.8"/>
<polyline points="1142.8,970.0 1148.8,969.0 1154.8,967.0 1157.8,966.5"/>
<polyline points="1154.8,967.5 1157.8,971.9" stroke-width="5.5"/>
<polyline points="1167.8,969.5 1170.8,973.9 1169.8,979.9 1166.8,985.9" stroke-width="6.0"/>
<polyline points="1171.8,962.5 1178.8,963.5" stroke-width="6.0"/>
<polyline points="1184.8,961.5 1191.7,962.0" stroke-width="6.0"/>
<polyline points="754.4,555.4 745.4,697.0"/>
<polyline points="590.0,693.0 639.8,698.0 714.4,706.0 746.4,707.3 750.0,708.2"/>
<polygon points="1441.0,985.4 1455.0,993.2 1457.1,1001.9 1464.3,1017.4 1477.3,1043.7 1474.2,1044.6 1459.6,1019.8 1449.4,1004.3 1442.6,995.7" fill="#000"/>
<polyline points="1438.0,979.0 1444.0,990.0 1452.0,1005.0 1462.0,1022.0 1476.0,1043.5"/>
<polyline points="1110.0,670.2 1113.0,672.6 1120.7,679.0 1125.8,686.6 1128.3,696.7 1133.4,703.0 1138.4,704.3"/>
<polyline points="1158.0,696.0 1158.7,699.2 1152.4,700.5 1143.5,698.0 1138.4,704.3"/>
</g>
</g>
<!-- colorbar -->
<g id="colorbar">
<g shape-rendering="crispEdges">
<rect x="149.5" y="1310" width="215.4" height="22" fill="#fff5eb"/>
<rect x="364.6" y="1310" width="215.4" height="22" fill="#fee6ce"/>
<rect x="579.8" y="1310" width="215.4" height="22" fill="#fdd0a2"/>
<rect x="794.9" y="1310" width="215.4" height="22" fill="#fdae6a"/>
<rect x="1010.1" y="1310" width="215.4" height="22" fill="#fd8c3b"/>
<rect x="1225.2" y="1310" width="215.4" height="22" fill="#f16913"/>
<rect x="1440.4" y="1310" width="215.4" height="22" fill="#d94801"/>
</g>
<polygon points="149.5,1311.5 73.5,1321.8 149.5,1332" fill="#ffffff"/>
<polygon points="1655.5,1311.5 1730.5,1321.8 1655.5,1332" fill="#983205"/>
<polygon points="149.5,1311.5 1655.5,1311.5 1730.5,1321.8 1655.5,1332 149.5,1332 73.5,1321.8" fill="none" stroke="#000" stroke-width="3.1" stroke-linejoin="miter"/>
<g stroke="#000" stroke-width="2.9">
<line x1="149.5" y1="1333" x2="149.5" y2="1347.6"/>
<line x1="364.6" y1="1333" x2="364.6" y2="1347.6"/>
<line x1="579.8" y1="1333" x2="579.8" y2="1347.6"/>
<line x1="794.9" y1="1333" x2="794.9" y2="1347.6"/>
<line x1="1010.1" y1="1333" x2="1010.1" y2="1347.6"/>
<line x1="1225.2" y1="1333" x2="1225.2" y2="1347.6"/>
<line x1="1440.4" y1="1333" x2="1440.4" y2="1347.6"/>
<line x1="1655.5" y1="1333" x2="1655.5" y2="1347.6"/>
</g>
<g class="l" text-anchor="middle">
<text class="l" x="149.5" y="1397.9">0.010</text>
<text class="l" x="364.6" y="1397.9">0.025</text>
<text class="l" x="579.8" y="1397.9">0.050</text>
<text class="l" x="794.9" y="1397.9">0.100</text>
<text class="l" x="1010.1" y="1397.9">0.500</text>
<text class="l" x="1225.2" y="1397.9">1.000</text>
<text class="l" x="1440.4" y="1397.9">2.000</text>
<text class="l" x="1655.5" y="1397.9">3.000</text>
<text class="l" x="902" y="1460.8">STP Daily Sum</text>
</g>
</g>
<!-- map frame -->
<rect x="30.5" y="97.5" width="1744.5" height="1211.9" fill="none" stroke="#000" stroke-width="3.1"/>
<!-- info box -->
<g id="infobox">
<rect x="67.1" y="1144.1" width="1559.4" height="130" fill="#fff" fill-opacity="0.9" stroke="#1a1a1a" stroke-width="4"/>
<text class="l" x="82" y="1196.4" xml:space="preserve">Valid: 2025-12-17 12:00 UTC to 2025-12-18 12:00 UTC</text>
<text class="l" x="82" y="1249.4" xml:space="preserve">Run:   2025-12-10 00:00 UTC</text>
</g>
<g id="logo">
<polygon points="47.95,1380.12 76.09,1389.40 76.47,1469.05 48.33,1478.71 20.58,1469.05 20.58,1389.01" fill="#fff" stroke="#adadad" stroke-width="1.9" stroke-linejoin="round"/>
<polygon points="47.95,1382.27 74.55,1390.85 74.55,1436.32 22.27,1450.12 22.27,1390.39" fill="#2a2829"/>
<polygon points="22.27,1452.95 74.78,1441.68 74.78,1468.13 48.33,1476.95 22.27,1468.13" fill="#d70a12"/>
<polygon points="30.32,1412.55 66.12,1412.55 66.12,1438.62 30.32,1448.20" fill="#fff"/>
<polygon points="29.63,1414.47 29.63,1410.02 31.31,1400.67 32.23,1393.00 33.15,1400.67 34.53,1406.03 36.45,1408.72 38.37,1406.03 40.28,1400.67 42.20,1406.03 44.12,1408.72 46.03,1406.03 47.34,1400.67 48.33,1395.30 49.33,1400.67 50.63,1406.03 52.55,1408.72 54.47,1406.03 56.38,1400.67 58.30,1406.03 60.22,1408.72 62.13,1406.03 63.51,1400.67 64.43,1393.00 65.35,1400.67 66.89,1410.02 66.89,1414.47" fill="#fff"/>
<polygon points="35.68,1415.08 36.83,1415.08 36.83,1446.28 35.68,1446.67" fill="#2a2829"/>
<polygon points="60.22,1415.08 61.37,1415.08 61.37,1439.92 60.22,1440.23" fill="#2a2829"/>
<rect x="40.28" y="1419.83" width="5.90" height="9.35" fill="#2a2829"/>
<rect x="41.97" y="1422.29" width="4.22" height="1.00" fill="#fff"/>
<rect x="41.97" y="1425.58" width="4.22" height="1.00" fill="#fff"/>
<rect x="40.28" y="1432.48" width="5.90" height="9.58" fill="#2a2829"/>
<rect x="41.97" y="1434.94" width="4.22" height="1.00" fill="#fff"/>
<rect x="41.97" y="1438.23" width="4.22" height="1.00" fill="#fff"/>
<rect x="50.40" y="1419.83" width="6.36" height="9.35" fill="#2a2829"/>
<rect x="52.09" y="1422.29" width="4.68" height="1.00" fill="#fff"/>
<rect x="52.09" y="1425.58" width="4.68" height="1.00" fill="#fff"/>
<rect x="50.40" y="1432.48" width="6.36" height="9.58" fill="#2a2829"/>
<rect x="52.09" y="1434.94" width="4.68" height="1.00" fill="#fff"/>
<rect x="52.09" y="1438.23" width="4.68" height="1.00" fill="#fff"/>
<text x="27.48" y="1467.21" textLength="43.24" lengthAdjust="spacingAndGlyphs" style="font-family:'Liberation Sans','DejaVu Sans',sans-serif;font-weight:700;font-size:17px;fill:#fff">NIU</text>
</g>
</svg>
</body>
</html>
